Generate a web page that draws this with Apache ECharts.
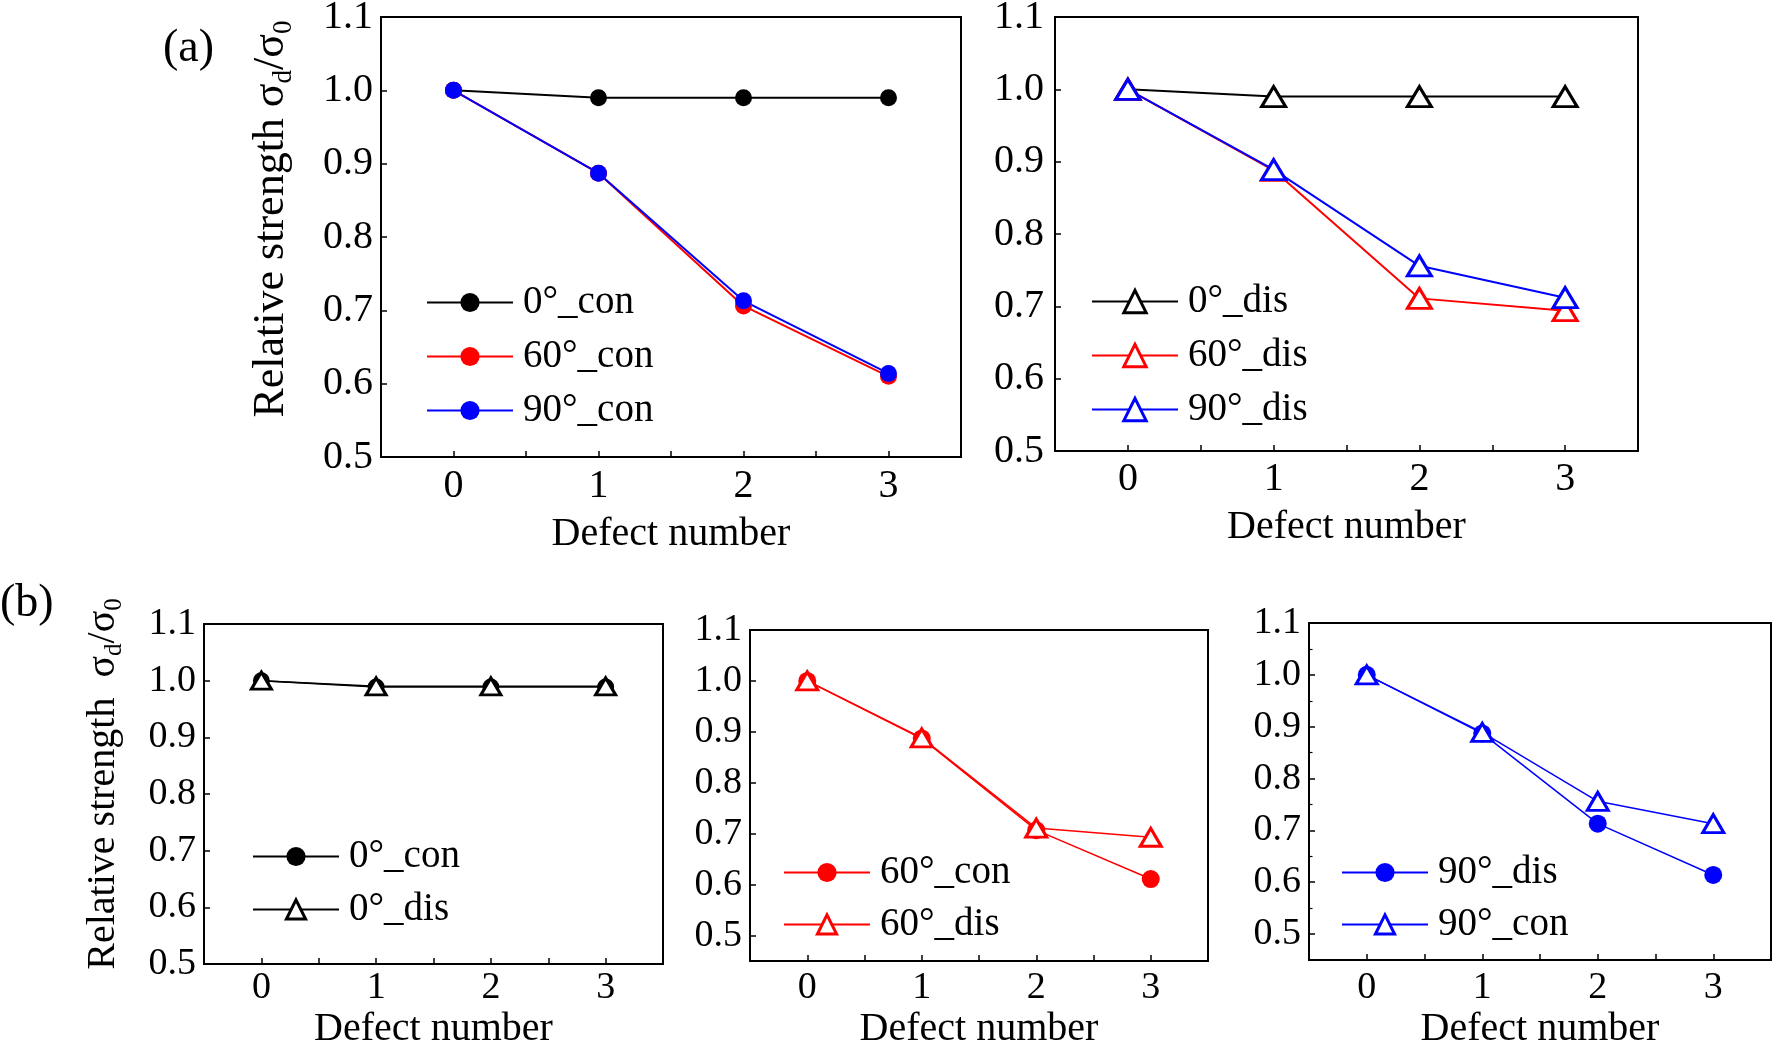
<!DOCTYPE html>
<html>
<head>
<meta charset="utf-8">
<script src="https://cdn.jsdelivr.net/npm/echarts@6/dist/echarts.min.js"></script>
<style>
  html, body { margin: 0; padding: 0; background: #fff; }
  #chart { width: 1776px; height: 1044px; }
</style>
</head>
<body>
<div id="chart"></div>
<script>
// defect number (x)
var defects = [0, 1, 2, 3];

// (a) left : continuous defects
var a_0con  = [1.000, 0.990, 0.990, 0.990];
var a_60con = [1.000, 0.887, 0.706, 0.610];
var a_90con = [1.000, 0.887, 0.713, 0.614];
// (a) right : discrete defects
var a_0dis  = [1.000, 0.990, 0.990, 0.990];
var a_60dis = [1.000, 0.888, 0.711, 0.694];
var a_90dis = [1.000, 0.889, 0.756, 0.712];
// (b) comparisons
var b_0con  = [1.000, 0.989, 0.989, 0.989];
var b_0dis  = [1.000, 0.990, 0.990, 0.990];
var b_60con = [1.000, 0.887, 0.707, 0.611];
var b_60dis = [1.000, 0.888, 0.711, 0.693];
var b_90dis = [1.000, 0.887, 0.713, 0.614];
var b_90con = [1.000, 0.889, 0.756, 0.713];

var FONT = '"Liberation Serif", "Times New Roman", serif';
var RED = '#ff0000', BLUE = '#0000ff', BLACK = '#000000';

function pts(vals) {
  return defects.map(function (d, i) { return [d, vals[i]]; });
}

// one line series; name may carry a "#tag" so legends stay separate per panel
function ser(name, idx, vals, color, tri, size, width) {
  return {
    name: name, type: 'line', xAxisIndex: idx, yAxisIndex: idx,
    data: pts(vals),
    symbol: tri ? 'triangle' : 'circle',
    symbolSize: size,
    lineStyle: { color: color, width: width },
    itemStyle: tri ? { color: '#fff', borderColor: color, borderWidth: 3 }
                   : { color: color, borderColor: color, borderWidth: 0 },
    z: tri ? 3 : 2,
    animation: false
  };
}

var grids = [
  { left: 381,  top: 17,  width: 580, height: 440 },
  { left: 1055, top: 17,  width: 583, height: 434 },
  { left: 204,  top: 624, width: 459, height: 340 },
  { left: 750,  top: 630, width: 458, height: 331 },
  { left: 1309, top: 623, width: 462, height: 337 }
];
// fixed boxes: do not let v6 squeeze grids to keep names inside the canvas
grids.forEach(function (g) {
  g.show = true; g.borderColor = BLACK; g.borderWidth = 2;
  g.containLabel = false; g.outerBoundsMode = 'none';
});

var labelMargin = [9, 8, 5, 8, 9];
var nameGap = [57, 56, 45, 48, 49];
var tickFs = [40, 40, 38, 38, 38];
var nameFs = [40, 40, 40, 40, 40];

var xAxes = grids.map(function (g, i) {
  return {
    gridIndex: i, type: 'value', min: -0.5, max: 3.5, interval: 0.5,
    name: 'Defect number', nameLocation: 'middle', nameGap: nameGap[i],
    nameTextStyle: { fontFamily: FONT, fontSize: nameFs[i], color: BLACK },
    axisLine: { show: true, onZero: false, lineStyle: { color: BLACK, width: 2 } },
    axisTick: { show: true, inside: true, length: 6, lineStyle: { color: BLACK, width: 1.5 } },
    axisLabel: {
      margin: labelMargin[i], fontFamily: FONT, fontSize: tickFs[i], color: BLACK,
      formatter: function (v) { return defects.indexOf(v) >= 0 ? String(v) : ''; }
    },
    splitLine: { show: false }
  };
});

var yNameA = '{m|Relative strength σ}{s|d}{m|/σ}{s|0}';
var yNameB = '{m|Relative strength  σ}{s|d}{m|/σ}{s|0}';

function richName(fs) {
  return {
    m: { fontFamily: FONT, fontSize: fs, lineHeight: fs + 8, color: BLACK },
    s: { fontFamily: FONT, fontSize: Math.round(fs * 0.62), lineHeight: 22, verticalAlign: 'bottom', color: BLACK }
  };
}

var yAxes = grids.map(function (g, i) {
  var y = {
    gridIndex: i, type: 'value', max: 1.1,
    axisLine: { show: true, onZero: false, lineStyle: { color: BLACK, width: 2 } },
    axisTick: { show: true, inside: true, length: 6, lineStyle: { color: BLACK, width: 1.5 } },
    axisLabel: {
      margin: i === 1 ? 11 : 8, fontFamily: FONT, fontSize: tickFs[i], color: BLACK,
      formatter: function (v) { return v < 0.49 ? '' : v.toFixed(1); }
    },
    splitLine: { show: false }
  };
  if (i < 3) { y.min = 0.5; y.interval = 0.1; } else { y.min = 0.45; }
  if (i === 4) {
    y.minorTick = { show: true, splitNumber: 2, length: 3.5, lineStyle: { color: BLACK, width: 1.2 } };
  }
  if (i === 0) {
    y.name = yNameA; y.nameLocation = 'middle'; y.nameGap = 84;
    y.nameTextStyle = { rich: richName(44), padding: [0, 0, 0, 36] };
  }
  if (i === 2) {
    y.name = yNameB; y.nameLocation = 'middle'; y.nameGap = 77;
    y.nameTextStyle = { rich: richName(40), padding: [0, 0, 0, 20] };
  }
  return y;
});

var series = [
  ser('0°_con',     0, a_0con,  BLACK, false, 17, 2),
  ser('60°_con',    0, a_60con, RED,   false, 17, 2),
  ser('90°_con',    0, a_90con, BLUE,  false, 17, 2),
  ser('0°_dis',     1, a_0dis,  BLACK, true, [24, 20], 2),
  ser('60°_dis',    1, a_60dis, RED,   true, [24, 20], 2),
  ser('90°_dis',    1, a_90dis, BLUE,  true, [24, 20], 2),
  ser('0°_con#b',   2, b_0con,  BLACK, false, 17, 1.5),
  ser('0°_dis#b',   2, b_0dis,  BLACK, true, [20, 17], 1.5),
  ser('60°_con#b',  3, b_60con, RED,   false, 18, 1.5),
  ser('60°_dis#b',  3, b_60dis, RED,   true, [21, 18], 1.5),
  ser('90°_dis#b',  4, b_90dis, BLUE,  false, 18, 1.5),
  ser('90°_con#b',  4, b_90con, BLUE,  true, [21, 18], 1.5)
];

function leg(names, left, top, fs, gap, ih) {
  return {
    orient: 'vertical', left: left, top: top,
    itemWidth: 86, itemHeight: ih, itemGap: gap,
    selectedMode: false,
    data: names.map(function (n) {
      var isTri = n.indexOf('dis') >= 0 ? (n !== '90°_dis#b') : (n === '90°_con#b');
      return isTri ? { name: n, itemStyle: { borderWidth: 3 } } : { name: n };
    }),
    formatter: function (n) { return n.split('#')[0]; },
    textStyle: { fontFamily: FONT, fontSize: fs, lineHeight: fs, color: BLACK, padding: [0, 0, 0, 5] }
  };
}

var legends = [
  leg(['0°_con', '60°_con', '90°_con'], 421, 278, 39, 15, 24),
  leg(['0°_dis', '60°_dis', '90°_dis'], 1086, 277, 39, 15, 28),
  leg(['0°_con#b', '0°_dis#b'], 247, 832, 39, 14, 24),
  leg(['60°_con#b', '60°_dis#b'], 778, 848, 39, 13, 24),
  leg(['90°_dis#b', '90°_con#b'], 1336, 848, 39, 13, 24)
];

var chart = echarts.init(document.getElementById('chart'));
chart.setOption({
  backgroundColor: '#fff',
  animation: false,
  grid: grids,
  xAxis: xAxes,
  yAxis: yAxes,
  legend: legends,
  series: series,
  graphic: [
    { type: 'text', left: 163, top: 26, style: { text: '(a)', font: '46px "Liberation Serif"', fill: BLACK } },
    { type: 'text', left: 0, top: 581, style: { text: '(b)', font: '46px "Liberation Serif"', fill: BLACK } }
  ]
});
</script>
</body>
</html>
